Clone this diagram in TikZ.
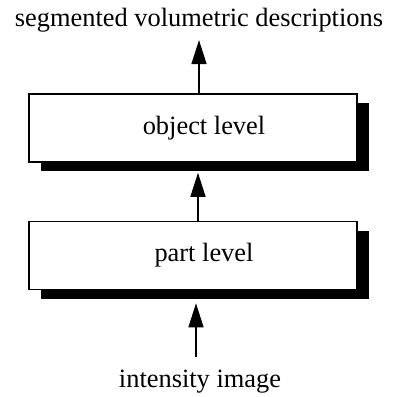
\documentclass[tikz,border=0pt]{standalone}
\usepackage{fontspec}
\setmainfont{Liberation Serif}
\usepackage{tikz}
\usetikzlibrary{arrows.meta,shadows}

\begin{document}
\begin{tikzpicture}[x=0.5pt, y=-0.5pt,
		level/.style={draw, line width=0.8pt, fill=white, minimum width=164pt, minimum height=34pt,
			drop shadow={shadow xshift=6pt, shadow yshift=-4.5pt, fill=black, opacity=1}},
		up/.style={-{Triangle[length=12pt, width=7.5pt]}, line width=0.75pt},
		txt/.style={inner sep=0pt, anchor=base, font=\fontsize{13.2}{16}\selectfont}]
		\useasboundingbox (0, 0) rectangle (398, 397);

		% the two levels
		\node (obj) at (193, 128) [level, label={[txt, anchor=center, xshift=5.5pt]center:object level}] {};
		\node (part) at (193, 255.5) [level, label={[txt, anchor=center, xshift=5.5pt]center:part level}] {};

		% input and output
		\node (out) at (199, 26) [txt] {segmented volumetric descriptions};
		\node (in) at (200, 387) [txt] {intensity image};

		\draw [up, shorten >=4pt] (obj.north -| out.south) -- (out.south);
		\draw [up, shorten >=5pt] ([xshift=2.5pt]part.north) -- ([xshift=2.5pt]obj.south);
		\draw [up, shorten <=6pt, shorten >=6.5pt] ([xshift=-2pt]in.north) -- ([xshift=1.5pt]part.south);
	\end{tikzpicture}
\end{document}
